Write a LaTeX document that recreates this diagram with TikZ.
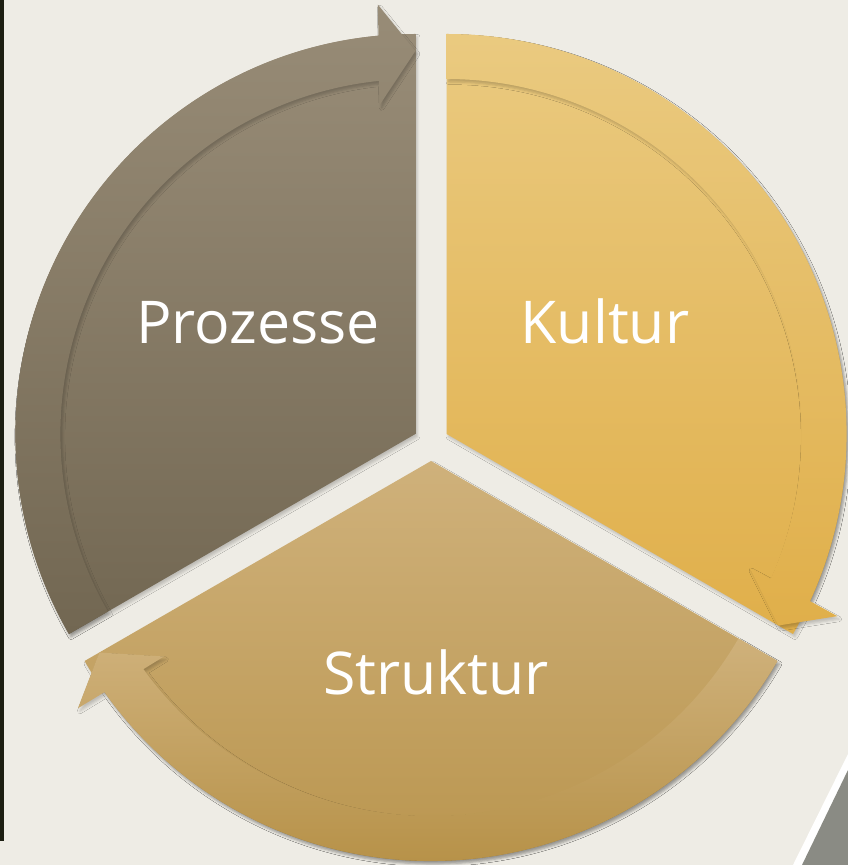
\documentclass[tikz,border=0pt]{standalone}
\usepackage{fontspec}
\setmainfont{Open Sans}
\usetikzlibrary{shadows.blur}
\definecolor{bg}{HTML}{EEECE5}
\definecolor{strip}{HTML}{1C1E12}
\definecolor{cornergray}{HTML}{8A8B84}
\definecolor{pTop}{HTML}{988C77}
\definecolor{pBot}{HTML}{726752}
\definecolor{kTop}{HTML}{EACA80}
\definecolor{kBot}{HTML}{E0AF4A}
\definecolor{sTop}{HTML}{CFB17B}
\definecolor{sBot}{HTML}{B79249}
\tikzset{
  softshadow/.style={blur shadow={shadow xshift=2pt, shadow yshift=-3pt, shadow blur radius=2.5pt, shadow opacity=20}},
  procfill/.style={top color=pTop, bottom color=pBot, softshadow},
  kultfill/.style={top color=kTop, bottom color=kBot, softshadow},
  strufill/.style={top color=sTop, bottom color=sBot, softshadow},
  lbl/.style={text=white, font=\fontsize{59}{70}\selectfont, inner sep=0pt, anchor=base}
}
\begin{document}
\begin{tikzpicture}[x=1pt,y=1pt]
\fill[bg] (0,0) rectangle (848,865);
\useasboundingbox (0,0) rectangle (848,865);
% left dark strip
\fill[strip] (0,24) rectangle (3.5,865);
% bottom right corner shape
\fill[white] (793,0) -- (848,111) -- (848,0) -- cycle;
\fill[cornergray] (802,0) -- (848,95) -- (848,0) -- cycle;

\coordinate (P) at (415.4,431);
\coordinate (K) at (446.6,431);
\coordinate (S) at (431,404);

% wedges
\path[procfill] (P) -- ++(90:400) arc[start angle=90, end angle=210, radius=400] -- cycle;
\path[kultfill] (K) -- ++(90:400) arc[start angle=90, end angle=-30, radius=400] -- cycle;
\path[strufill] (S) -- ++(-30:400) arc[start angle=-30, end angle=-150, radius=400] -- cycle;

% arrow bands
\begin{scope}[shift={(P)}]
\path[procfill] (210:400) arc[start angle=210, end angle=95.3, radius=400]
  -- (95.0:431) -- (90:383) -- (96.2:331) -- (95.9:355)
  arc[start angle=95.9, end angle=210, radius=355] -- cycle;
\end{scope}
\begin{scope}[shift={(K)}]
\path[kultfill] (90:400) arc[start angle=90, end angle=-24.7, radius=400]
  -- (-25.0:431) -- (-30:383) -- (-23.8:331) -- (-24.1:355)
  arc[start angle=-24.1, end angle=90, radius=355] -- cycle;
\end{scope}
\begin{scope}[shift={(S)}]
\path[strufill] (-30:400) arc[start angle=-30, end angle=-144.7, radius=400]
  -- (-145.0:431) -- (-150:383) -- (-143.8:331) -- (-144.1:355)
  arc[start angle=-144.1, end angle=-30, radius=355] -- cycle;
\end{scope}

% labels
\node[lbl] (tP) at (258,521) {Prozesse};
\node[lbl] (tK) at (605,521) {Kultur};
\node[lbl] (tS) at (436,170) {Struktur};
\end{tikzpicture}
\end{document}
